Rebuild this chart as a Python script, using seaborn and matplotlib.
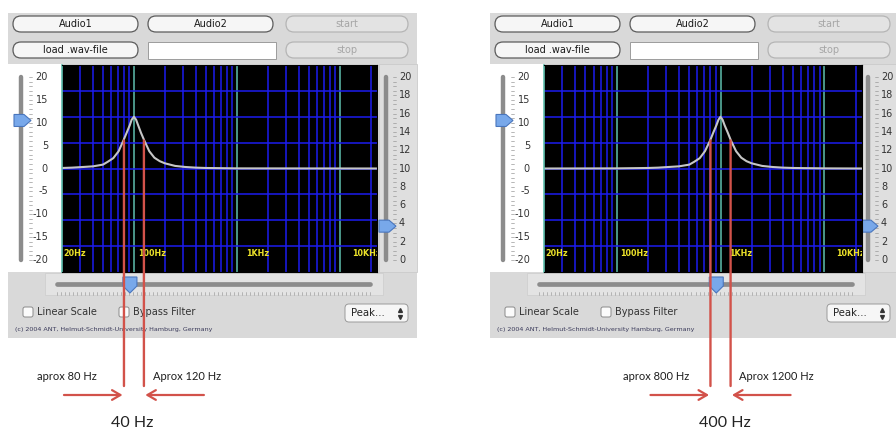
import numpy as np
import matplotlib.pyplot as plt
import seaborn as sns
from matplotlib.patches import Rectangle, FancyBboxPatch, Polygon, ConnectionPatch
from matplotlib.transforms import blended_transform_factory

# filter response (Hz, dB)
left_freq = [20, 25, 32, 40, 50, 56, 63, 71, 79, 85, 91, 95, 100, 105, 110, 117, 126,
             141, 158, 178, 200, 251, 316, 398, 501, 1000, 23000]
left_gain = [0.12, 0.2, 0.35, 0.5, 0.9, 1.6, 2.4, 4.0, 6.5, 8.3, 10.0, 11.3, 12.0, 11.3,
             10.0, 8.3, 6.5, 4.0, 2.5, 1.7, 1.2, 0.6, 0.35, 0.2, 0.12, 0.03, 0.0]
right_freq = [20, 100, 200, 251, 316, 398, 501, 562, 631, 708, 794, 851, 912, 955, 1000,
              1047, 1096, 1175, 1259, 1413, 1585, 1778, 1995, 2512, 3162, 3981, 5012,
              10000, 23000]
right_gain = [0.0, 0.03, 0.12, 0.2, 0.35, 0.5, 0.9, 1.6, 2.4, 4.0, 6.5, 8.3, 10.0, 11.3,
              12.0, 11.3, 10.0, 8.3, 6.5, 4.0, 2.5, 1.7, 1.2, 0.6, 0.35, 0.2, 0.12, 0.03, 0.0]

centre_freqs = [100, 1000]
left_marks = [80, 125]
right_marks = [800, 1250]
mark_gain = [6.5, 6.5]

freq_labels = ["20Hz", "100Hz", "1KHz", "10KHz"]
freq_label_pos = [20, 100, 1000, 10000]
decades = [100, 1000, 10000]
minor_lines = [30, 40, 50, 60, 70, 80, 90, 200, 300, 400, 500, 600, 700, 800, 900,
               2000, 3000, 4000, 5000, 6000, 7000, 8000, 9000, 20000]
db_lines = [-18, -12, -6, 0, 6, 12, 18]

gain_scale = [20, 15, 10, 5, 0, -5, -10, -15, -20]
q_scale = [20, 18, 16, 14, 12, 10, 8, 6, 4, 2, 0]
gain_slider = 10.5
q_slider = 3.7

left_notes = ["aprox 80 Hz", "Aprox 120 Hz", "40 Hz"]
right_notes = ["aprox 800 Hz", "Aprox 1200 Hz", "400 Hz"]

sns.set_style("white")
plt.rcParams['font.family'] = ['DejaVu Sans']

W, H = 896, 430
RED = "#d2524a"
TEAL = "#5fbfae"
BLUE = "#1c1cf0"
NOTE_FONT = ["Lato", "DejaVu Sans"]

fig = plt.figure(figsize=(W / 100, H / 100), dpi=100)
bg = fig.add_axes([0, 0, 1, 1])
bg.set_xlim(0, W)
bg.set_ylim(H, 0)
bg.axis("off")


def button(x0, x1, yc, label, enabled=True):
    fc = "#f6f6f6" if enabled else "#e3e3e3"
    ec = "#5c5c5c" if enabled else "#b5b5b5"
    tc = "#1a1a1a" if enabled else "#a6a6a6"
    bg.add_patch(FancyBboxPatch((x0, yc - 8), x1 - x0, 16,
                                boxstyle="round,pad=0,rounding_size=8",
                                fc=fc, ec=ec, lw=0.9))
    bg.text((x0 + x1) / 2, yc, label, ha="center", va="center", fontsize=7, color=tc)


def thumb(pts, cx, cy):
    bg.add_patch(Polygon([(cx + a, cy + b) for a, b in pts], closed=True,
                         fc="#78a8ea", ec="#4a76bd", lw=0.8, zorder=5))


def chrome(ox, centre):
    bg.add_patch(Rectangle((ox + 8, 13), 409, 325, fc="#d9d9d9", ec="none"))
    bg.add_patch(Rectangle((ox + 8, 64), 54, 208, fc="white", ec="none"))
    bg.add_patch(Rectangle((ox + 379, 64), 38, 208, fc="#dfdfdf", ec="#cbcbcb", lw=0.6))
    bg.add_patch(Rectangle((ox + 45, 273), 338, 22, fc="#e3e3e3", ec="#cfcfcf", lw=0.6))

    button(ox + 13, ox + 138, 24, "Audio1")
    button(ox + 148, ox + 273, 24, "Audio2")
    button(ox + 286, ox + 408, 24, "start", False)
    button(ox + 13, ox + 138, 50, "load .wav-file")
    bg.add_patch(Rectangle((ox + 148, 42), 128, 17, fc="white", ec="#9c9c9c", lw=0.7))
    button(ox + 286, ox + 408, 50, "stop", False)

    # gain slider (left)
    gy = lambda v: 77 + (20 - v) * 183 / 40
    bg.plot([ox + 21, ox + 21], [77, 260], color="#8c8c8c", lw=3.2, solid_capstyle="round")
    for v in range(-20, 21):
        bg.plot([ox + 29, ox + 32], [gy(v), gy(v)], color="#9a9a9a", lw=0.5)
    for v in gain_scale:
        bg.text(ox + 48, gy(v), str(v), ha="right", va="center", fontsize=7, color="#333333")
    thumb([(-7, -6), (3, -6), (10, 0), (3, 6), (-7, 6)], ox + 21, gy(gain_slider))

    # Q slider (right)
    qy = lambda v: 77 + (20 - v) * 183 / 20
    bg.plot([ox + 386, ox + 386], [77, 260], color="#8c8c8c", lw=3.2, solid_capstyle="round")
    for v in np.arange(0, 20.5, 0.5):
        bg.plot([ox + 393, ox + 396], [qy(v), qy(v)], color="#9a9a9a", lw=0.5)
    for v in q_scale:
        bg.text(ox + 399, qy(v), str(v), ha="left", va="center", fontsize=7, color="#333333")
    thumb([(-7, -6), (3, -6), (10, 0), (3, 6), (-7, 6)], ox + 386, qy(q_slider))

    # frequency slider (bottom, log 20 Hz .. 20 kHz)
    bg.plot([ox + 57, ox + 370], [284, 284], color="#8c8c8c", lw=3.4, solid_capstyle="round")
    for x in np.linspace(ox + 57, ox + 370, 79):
        bg.plot([x, x], [292, 295], color="#a0a0a0", lw=0.5)
    tx = ox + 57 + 313 * np.log10(centre / 20) / 3
    thumb([(-7, -7), (7, -7), (7, 2), (0, 9), (-7, 2)], tx, 284)

    # check boxes, popup, copyright
    for bx, lab in [(23, "Linear Scale"), (119, "Bypass Filter")]:
        bg.add_patch(FancyBboxPatch((ox + bx, 307), 10, 10, boxstyle="round,pad=0,rounding_size=2",
                                    fc="#fbfbfb", ec="#8a8a8a", lw=0.7))
        bg.text(ox + bx + 14, 312, lab, ha="left", va="center", fontsize=7, color="#333333")
    bg.add_patch(FancyBboxPatch((ox + 345, 304), 63, 18, boxstyle="round,pad=0,rounding_size=4",
                                fc="#f6f6f6", ec="#9a9a9a", lw=0.7))
    bg.text(ox + 351, 313, "Peak...", ha="left", va="center", fontsize=7.3, color="#222222")
    bg.plot([ox + 400], [309.5], marker="^", ms=2.8, color="#333333")
    bg.plot([ox + 400], [316.5], marker="v", ms=2.8, color="#333333")
    bg.text(ox + 15, 330, "(c) 2004 ANT, Helmut-Schmidt-University Hamburg, Germany",
            ha="left", va="center", fontsize=4.6, color="#3a3a5a")


def spectrum(x0, x1, freq, gain, marks, notes, ox):
    ax = fig.add_axes([x0 / W, 1 - 272 / H, (x1 - x0) / W, 207 / H])
    ax.set_facecolor("black")
    sns.lineplot(x=freq, y=gain, ax=ax, color="#c6c6c6", lw=1.5, estimator=None, sort=False)
    ax.set_xscale("log")
    ax.set_xlim(20, 23000)
    ax.set_ylim(-24, 24)
    ax.set_xticks(decades)
    ax.set_xticks(minor_lines, minor=True)
    ax.set_yticks(db_lines)
    ax.xaxis.grid(True, which="major", color=TEAL, lw=1.1)
    ax.xaxis.grid(True, which="minor", color=BLUE, lw=1.1)
    ax.yaxis.grid(True, which="major", color=BLUE, lw=1.1)
    ax.tick_params(which="both", length=0, labelbottom=False, labelleft=False)
    ax.set_xlabel("")
    ax.set_ylabel("")
    for side in ["top", "bottom", "right"]:
        ax.spines[side].set_color("black")
    ax.spines["left"].set_color(TEAL)
    ax.spines["left"].set_linewidth(1.2)

    for lab, f, dx in zip(freq_labels, freq_label_pos, [1, 4, 9, 12]):
        ax.annotate(lab, xy=(f, -19.6), xytext=(dx, 0), textcoords="offset pixels",
                    color="#ece22a", fontsize=5.8, fontweight="bold", va="center",
                    ha="left", annotation_clip=False, clip_on=True)

    # red markers run from the curve down past the panel
    blend = blended_transform_factory(ax.transData, bg.transData)
    for f, g in zip(marks, mark_gain):
        fig.add_artist(ConnectionPatch(xyA=(f, g), coordsA=ax.transData,
                                       xyB=(f, 386), coordsB=blend,
                                       color=RED, lw=1.7, zorder=10))
    arrow = dict(arrowstyle="->,head_length=0.6,head_width=0.35", color=RED, lw=1.6,
                 shrinkA=0, shrinkB=1)
    bg.annotate("", xy=(marks[0], 395), xycoords=blend, xytext=(-60, 0),
                textcoords="offset pixels", arrowprops=arrow)
    bg.annotate("", xy=(marks[1], 395), xycoords=blend, xytext=(60, 0),
                textcoords="offset pixels", arrowprops=arrow)

    bg.text(ox + 37, 377, notes[0], ha="left", va="center", fontsize=8, color="#1e1e1e",
            family=NOTE_FONT)
    bg.text(ox + 153, 377, notes[1], ha="left", va="center", fontsize=8, color="#1e1e1e",
            family=NOTE_FONT)
    return ax


chrome(0, centre_freqs[0])
chrome(482, centre_freqs[1])
spectrum(62, 377, left_freq, left_gain, left_marks, left_notes, 0)
spectrum(544, 862, right_freq, right_gain, right_marks, right_notes, 586)

bg.text(132, 423, left_notes[2], ha="center", va="center", fontsize=11.5, color="#222222",
        family=NOTE_FONT)
bg.text(725, 423, right_notes[2], ha="center", va="center", fontsize=11.5, color="#222222",
        family=NOTE_FONT)

fig.savefig("out.png", dpi=100)
